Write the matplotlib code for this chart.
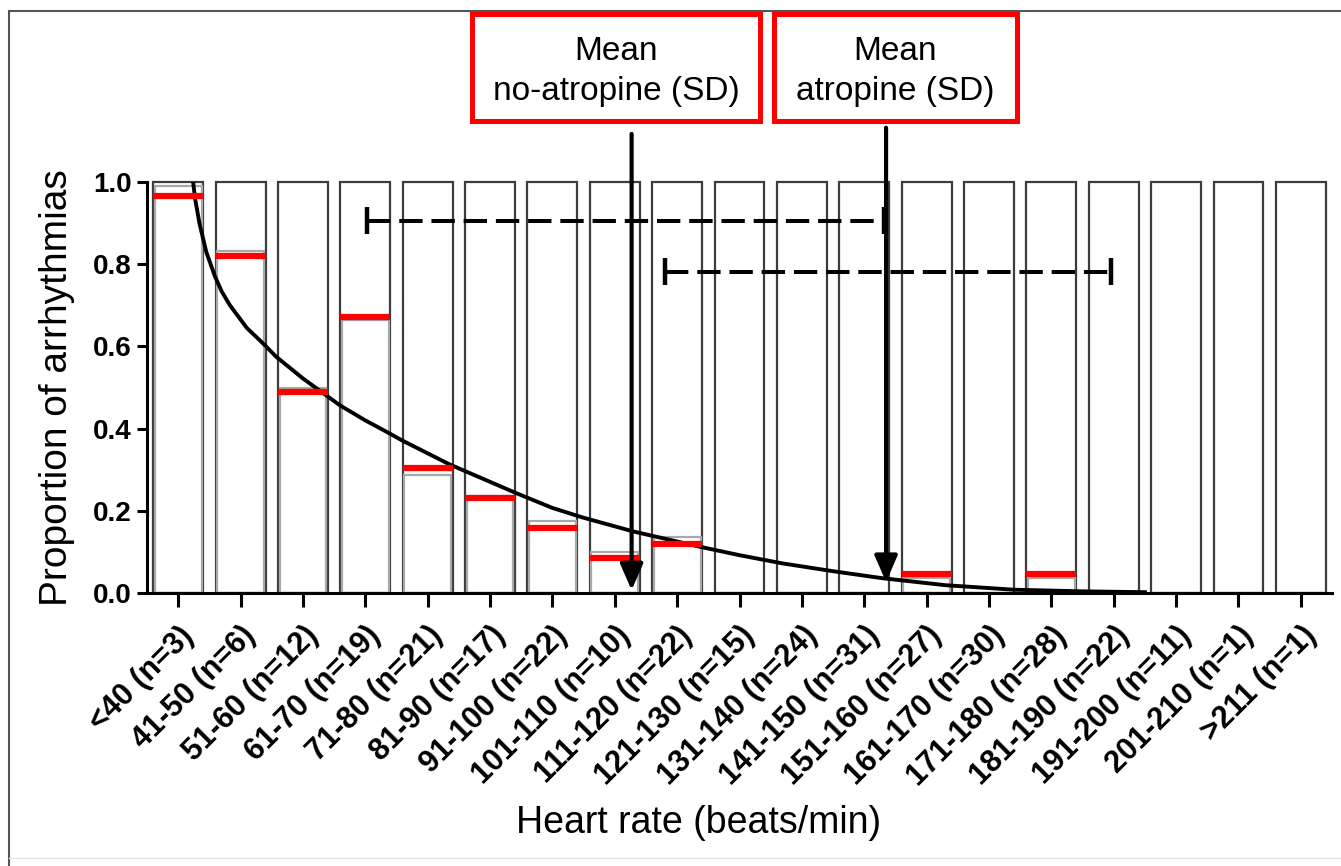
import numpy as np
import matplotlib
matplotlib.use("Agg")
import matplotlib.pyplot as plt
from matplotlib.patches import Rectangle
from matplotlib.lines import Line2D

plt.rcParams['font.family'] = ['Liberation Sans', 'DejaVu Sans']

# ----------------------------
# data
# ----------------------------
categories = ["<40 (n=3)", "41-50 (n=6)", "51-60 (n=12)", "61-70 (n=19)",
              "71-80 (n=21)", "81-90 (n=17)", "91-100 (n=22)", "101-110 (n=10)",
              "111-120 (n=22)", "121-130 (n=15)", "131-140 (n=24)", "141-150 (n=31)",
              "151-160 (n=27)", "161-170 (n=30)", "171-180 (n=28)", "181-190 (n=22)",
              "191-200 (n=11)", "201-210 (n=1)", ">211 (n=1)"]

# observed proportion (grey line inside each bar)
observed = [0.99, 0.833, 0.50, 0.665, 0.287, 0.235, 0.175, 0.10, 0.136, 0.0,
            0.0, 0.0, 0.037, 0.0, 0.036, 0.0, 0.0, 0.0, 0.0]

# red markers (nan = none drawn)
red_vals = [0.967, 0.819, 0.488, 0.672, 0.303, 0.230, 0.157, 0.084, 0.119, np.nan,
            np.nan, np.nan, 0.046, np.nan, 0.046, np.nan, np.nan, np.nan, np.nan]

# fitted curve, points (x in category units)
curve_x = [0.24, 0.27, 0.30, 0.34, 0.45, 0.59, 0.70, 0.83, 1.10, 1.39, 1.57,
           2.00, 2.40, 2.59, 3.00, 3.38, 3.58, 4.35, 4.90, 5.42, 6.00, 6.48,
           7.29, 8.35, 9.00, 9.69, 10.5, 11.29, 12.3, 13.4, 14.5, 15.5]
curve_y = [1.0, 0.96, 0.935, 0.90, 0.83, 0.77, 0.733, 0.70, 0.645, 0.603, 0.575,
           0.522, 0.478, 0.457, 0.42, 0.389, 0.372, 0.313, 0.277, 0.243, 0.207,
           0.184, 0.150, 0.113, 0.092, 0.072, 0.053, 0.036, 0.019, 0.008,
           0.004, 0.002]

# mean and SD ranges (category units)
sd_y = [0.906, 0.782]
sd_lo = [3.02, 7.81]
sd_hi = [11.31, 14.96]
mean_x = [7.27, 11.35]
arrow_top = [1.117, 1.132]
arrow_tip = [0.007, 0.027]
box_labels = ["Mean\nno-atropine (SD)", "Mean\natropine (SD)"]

W, H = 1341, 866
fig = plt.figure(figsize=(W / 100, H / 100), dpi=100)
ax = fig.add_axes([147 / W, 1 - 593 / H, (1332 - 147) / W, (593 - 182) / H])

x = np.arange(len(categories))

# full-height bars and observed-proportion bars
ax.bar(x, np.ones(len(x)), width=0.8, facecolor="white", edgecolor="#3c3c3c",
       linewidth=1.6, clip_on=False, zorder=1)
ax.bar(x, observed, width=0.75, facecolor="none", edgecolor="#a8a8a8",
       linewidth=1.6, clip_on=False, zorder=2)

# red markers
ax.hlines(red_vals, x - 0.4, x + 0.4, colors="#ff0000", linewidth=4.5, zorder=4)

# curve
ax.plot(curve_x, curve_y, color="black", linewidth=2.8, zorder=3,
        solid_joinstyle="round")

# SD dashed lines with caps
for y, lo, hi in zip(sd_y, sd_lo, sd_hi):
    ax.plot([lo, hi], [y, y], color="black", linewidth=2.9,
            linestyle=(0, (5.8, 2.2)), zorder=5)
    ax.vlines([lo, hi], y - 0.032, y + 0.032, colors="black", linewidth=3.2, zorder=5)

# mean arrows
for mx, top, tip in zip(mean_x, arrow_top, arrow_tip):
    ax.annotate("", xy=(mx, tip), xytext=(mx, top), annotation_clip=False,
                arrowprops=dict(arrowstyle="-|>,head_length=0.8,head_width=0.35",
                                mutation_scale=20, lw=3, color="black",
                                shrinkA=0, shrinkB=0), zorder=6)

ax.set_xlim(-0.5, 18.5)
ax.set_ylim(0, 1.0)
ax.set_yticks(np.arange(0, 1.01, 0.2))
ax.set_yticklabels([f"{v:.1f}" for v in np.arange(0, 1.01, 0.2)],
                   fontsize=20, fontweight="bold")
ax.set_xticks(x)
ax.set_xticklabels(categories, fontsize=22, fontweight="bold", rotation=45,
                   ha="right", rotation_mode="anchor")
for s in ["top", "right"]:
    ax.spines[s].set_visible(False)
for s in ["left", "bottom"]:
    ax.spines[s].set_linewidth(2.2)
ax.tick_params(axis="y", length=7, width=2.2, pad=4)
ax.tick_params(axis="x", length=10, width=2.2, pad=10)

ax.set_ylabel("Proportion of arrhythmias", fontsize=28)
ax.yaxis.set_label_coords(-0.061, 0.5)
fig.text(699 / W, 1 - 823 / H, "Heart rate (beats/min)", fontsize=27,
         ha="center", va="center")

# annotation boxes above the plot
boxes = [(472, 14, 760, 121), (774, 14, 1017, 121)]
for (x0, y0, x1, y1), lab in zip(boxes, box_labels):
    fig.add_artist(Rectangle((x0 / W, 1 - y1 / H), (x1 - x0) / W, (y1 - y0) / H,
                             transform=fig.transFigure, fill=False,
                             edgecolor="#ff0000", linewidth=3.6))
    fig.text((x0 + x1) / 2 / W, 1 - ((y0 + y1) / 2 + 4) / H, lab, fontsize=24,
             ha="center", va="center", linespacing=1.35)

# outer frame
fig.add_artist(Line2D([9 / W, 9 / W], [0, 1 - 11 / H], transform=fig.transFigure,
                      color="#555555", linewidth=1.5))
fig.add_artist(Line2D([9 / W, 1], [1 - 11 / H, 1 - 11 / H], transform=fig.transFigure,
                      color="#555555", linewidth=1.5))
fig.add_artist(Line2D([9 / W, 1], [1 - 858 / H, 1 - 858 / H], transform=fig.transFigure,
                      color="#e6e6e6", linewidth=1.0))

fig.savefig("out.png", dpi=100)
